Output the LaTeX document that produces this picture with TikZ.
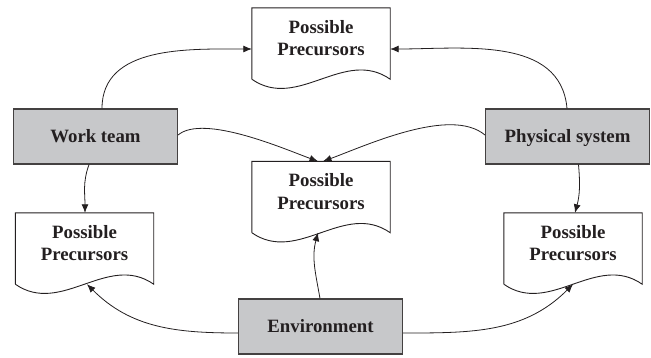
\documentclass[tikz,border=0pt]{standalone}
\usepackage{fontspec}
\setmainfont{Liberation Serif}
\usetikzlibrary{arrows.meta}

\definecolor{boxgray}{HTML}{C7C8CA}
\definecolor{inkline}{HTML}{231F20}

\tikzset{
  factor/.style={draw=inkline!85, fill=boxgray, line width=1.1pt,
    minimum width=164pt, minimum height=55pt, inner sep=0pt,
    text height=11pt, text depth=0pt, text=inkline,
    font=\fontsize{18.8}{22.3}\selectfont\bfseries},
  docbox/.style={minimum width=138pt, minimum height=71pt, inner sep=0pt,
    align=center, text depth=11pt, text=inkline,
    font=\fontsize{18.8}{22.3}\selectfont\bfseries},
  docline/.style={draw=inkline, line width=0.9pt},
  link/.style={draw=inkline, line width=0.8pt, -{Latex[length=8.5pt,width=7pt]}}
}

\begin{document}
\begin{tikzpicture}[x=1pt,y=-1pt]
\useasboundingbox (0,0) rectangle (651,357);

% factors
\node[factor] (team) at (95.5,136.5) {Work team};
\node[factor] (phys) at (567.5,136.5) {Physical system};
\node[factor] (env) at (320.5,326.5) {Environment};

% precursor documents
\node[docbox] (ptop) at (321,43.5) {Possible\\Precursors};
\node[docbox] (pmid) at (321,197) {Possible\\Precursors};
\node[docbox] (pleft) at (84.5,248.5) {Possible\\Precursors};
\node[docbox] (pright) at (573,248.5) {Possible\\Precursors};

\foreach \d in {ptop,pmid,pleft,pright}
  \draw[docline] (\d.south west) -- (\d.north west) -- (\d.north east) -- (\d.south east)
    .. controls +(-46,-32) and +(46,32) .. (\d.south west);

% links
\draw[link] ([xshift=6.5pt]team.north) to[out=90,in=180] ([yshift=-5.5pt]ptop.west);
\draw[link] ([xshift=-0.5pt]phys.north) to[out=95,in=0] ([yshift=-5.5pt]ptop.east);
\draw[link] ([yshift=1.5pt]team.east) to[out=40,in=160,looseness=0.6] ([xshift=-3pt]pmid.north);
\draw[link] ([yshift=1.5pt]phys.west) to[out=140,in=20,looseness=0.7] ([xshift=2pt]pmid.north);
\draw[link] ([xshift=-6.5pt]team.south) to[out=250,in=90] ([xshift=0.5pt]pleft.north);
\draw[link] ([xshift=11pt]phys.south) to[out=-85,in=75] ([xshift=2pt]pright.north);
\draw[link] ([xshift=-0.5pt]env.north) to[out=100,in=-105] ([xshift=-3pt]pmid.south);
\draw[link] ([yshift=-6.5pt]env.west) to[out=180,in=-45] ([xshift=2.5pt]pleft.south);
\draw[link] ([yshift=-6.5pt]env.east) to[out=0,in=-135] (pright.south);

\end{tikzpicture}
\end{document}
